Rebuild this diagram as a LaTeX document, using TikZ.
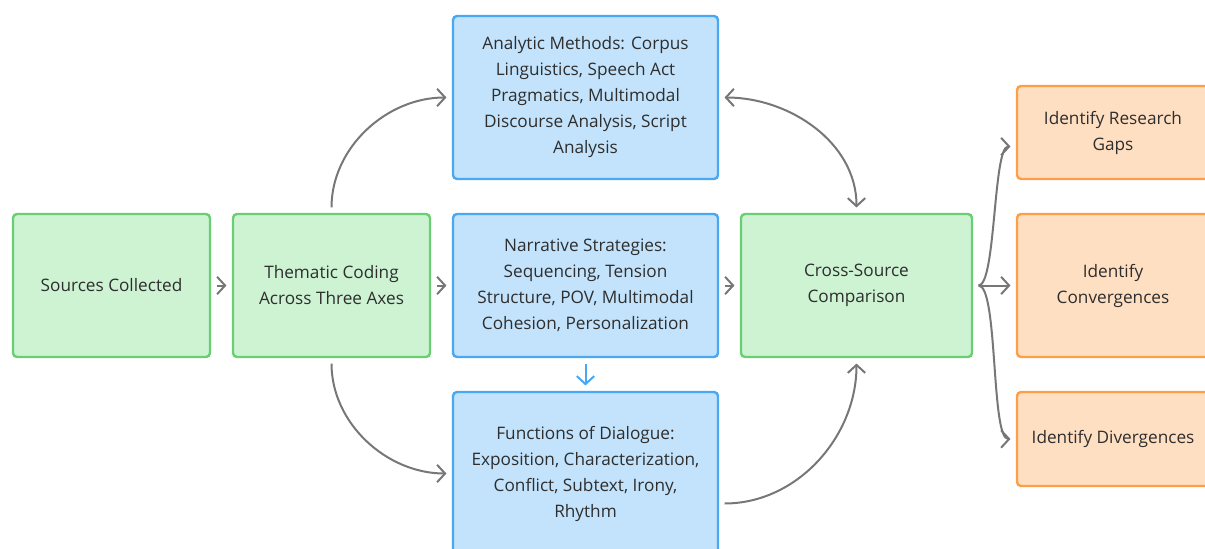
\documentclass[tikz,border=0pt]{standalone}
\usepackage{fontspec}
\setmainfont{Open Sans}
\usetikzlibrary{arrows.meta}

\definecolor{verde}{HTML}{CDF3D3}
\definecolor{verdeborda}{HTML}{6ACF72}
\definecolor{azul}{HTML}{C2E3FB}
\definecolor{azulborda}{HTML}{4AA8F2}
\definecolor{laranja}{HTML}{FFDFC2}
\definecolor{laranjaborda}{HTML}{FD9F48}
\definecolor{seta}{HTML}{777777}
\definecolor{texto}{HTML}{2E2E2E}

\begin{document}
\begin{tikzpicture}[
        x=0.75pt, y=-0.75pt,
        every node/.style={rectangle, rounded corners=3pt, line width=1.8pt, inner sep=0pt, align=center, font=\fontsize{12.9}{19.5}\selectfont, text=texto},
        nodeverde/.style={draw=verdeborda, fill=verde, minimum height=107.25pt},
        nodeazul/.style={draw=azulborda, fill=azul, minimum width=198.75pt},
        nodelaranja/.style={draw=laranjaborda, fill=laranja, minimum width=144pt},
        ligacao/.style={draw=seta, line width=1.5pt, -{Straight Barb[length=6pt,width=13pt]}, shorten >=4pt, shorten <=4pt},
        ligacaodupla/.style={ligacao, {Straight Barb[length=6pt,width=13pt]}-{Straight Barb[length=6pt,width=13pt]}},
        ligacaoazul/.style={ligacao, draw=azulborda}
        ]
        \useasboundingbox (0,0) rectangle (1205,549);
        \clip (0,0) rectangle (1205,549);

        % coluna da esquerda
        \node [nodeverde, minimum width=147.75pt] (fontes) at (111.5,285.5) {Sources Collected};
        \node [nodeverde, minimum width=147.75pt] (tematica) at (331.5,285.5) {Thematic Coding\\Across Three Axes};

        % os tres eixos
        \node [nodeazul, minimum height=122.25pt] (metodos) at (585.5,97.5) {Analytic Methods: Corpus\\Linguistics, Speech Act\\Pragmatics, Multimodal\\Discourse Analysis, Script\\Analysis};
        \node [nodeazul, minimum height=107.25pt] (narrativa) at (585.5,285.5) {Narrative Strategies:\\Sequencing, Tension\\Structure, POV, Multimodal\\Cohesion, Personalization};
        \node [nodeazul, minimum height=122.25pt] (funcoes) at (585.5,473.5) {Functions of Dialogue:\\Exposition, Characterization,\\Conflict, Subtext, Irony,\\Rhythm};

        \node [nodeverde, minimum width=173.25pt] (comparacao) at (856.5,285.5) {Cross-Source\\Comparison};

        % resultados
        \node [nodelaranja, minimum height=69.75pt] (lacunas) at (1113,132.5) {Identify Research\\Gaps};
        \node [nodelaranja, minimum height=107.25pt] (convergencias) at (1113,285.5) {Identify\\Convergences};
        \node [nodelaranja, minimum height=70.5pt] (divergencias) at (1113,439) {Identify Divergences};

        \draw[ligacao] (fontes) -- (tematica);
        \draw[ligacao] (tematica) -- (narrativa);
        \draw[ligacao] (narrativa) -- (comparacao);
        \draw[ligacao] (tematica.north) to[out=90, in=180] (metodos.west);
        \draw[ligacao] (tematica.south) to[out=-90, in=180] (funcoes.west);
        \draw[ligacaoazul] (narrativa) -- (funcoes);
        \draw[ligacaodupla] (metodos.east) to[out=0, in=90] (comparacao.north);
        \draw[ligacao] ([yshift=-22.5pt]funcoes.east) to[out=0, in=-90] (comparacao.south);

        \draw[ligacao] (comparacao.east) to[out=0, in=180, looseness=0.4] ([yshift=-10.5pt]lacunas.west);
        \draw[ligacao] (comparacao) -- (convergencias);
        \draw[ligacao] (comparacao.east) to[out=0, in=180, looseness=0.4] (divergencias.west);
    \end{tikzpicture}
\end{document}
